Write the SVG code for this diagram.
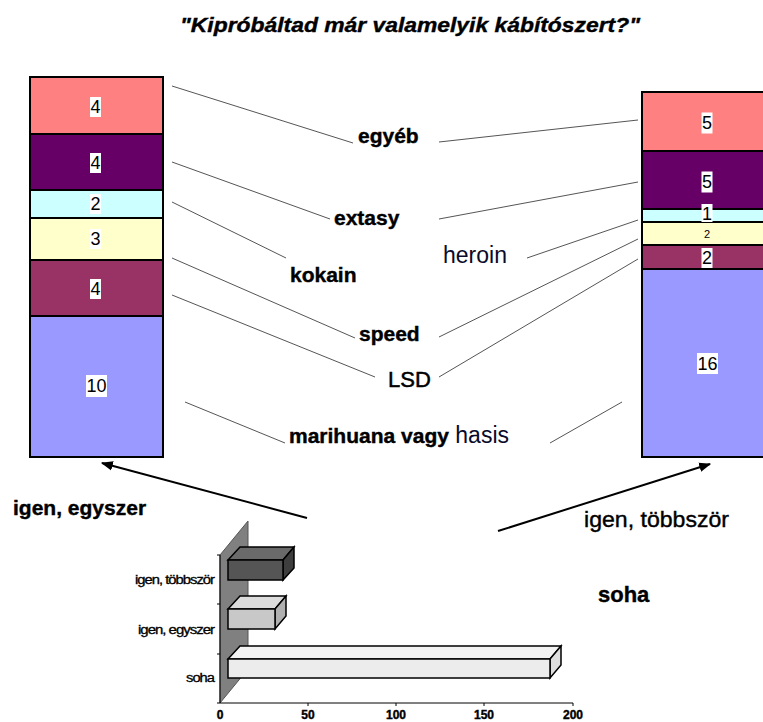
<svg xmlns="http://www.w3.org/2000/svg" width="763" height="722" viewBox="0 0 763 722">
<style>
.seg{stroke:#000;stroke-width:2}
.num{font-family:"Liberation Sans",Arial,sans-serif;font-size:18px;fill:#000;text-anchor:middle;dominant-baseline:central}
.nb{fill:#fff}
.lbl{font-family:"Liberation Sans",Arial,sans-serif;font-weight:bold;font-size:21px;fill:#000;stroke:#000;stroke-width:0.4}
.reg{font-family:"Liberation Sans",Arial,sans-serif;font-weight:normal;font-size:23px;fill:#0a0a2a}
.con{stroke:#555;stroke-width:1;fill:none}
.arr{stroke:#000;stroke-width:2;fill:none;marker-end:url(#ah)}
.cat{font-family:"Liberation Sans",Arial,sans-serif;font-size:12px;fill:#000;text-anchor:end;letter-spacing:-0.8px;stroke:#000;stroke-width:0.3}
.tick{font-family:"Liberation Sans",Arial,sans-serif;font-weight:bold;font-size:12px;fill:#000;text-anchor:middle;stroke:#000;stroke-width:0.4}
.box{stroke:#000;stroke-width:1.5}
</style>
<defs>
<marker id="ah" viewBox="0 0 10 10" refX="9" refY="5" markerWidth="6" markerHeight="6" orient="auto" markerUnits="strokeWidth">
<path d="M0,1 L10,5 L0,9 Z" fill="#000"/>
</marker>
</defs>
<rect width="763" height="722" fill="#fff"/>
<text x="410" y="32" text-anchor="middle" font-family="Liberation Sans, Arial, sans-serif" font-weight="bold" font-style="italic" font-size="21" textLength="460" lengthAdjust="spacingAndGlyphs" stroke="#000" stroke-width="0.4">"Kipróbáltad már valamelyik kábítószert?"</text>

<g id="left-bar">
<rect class="seg" x="30" y="77" width="133" height="57" fill="#FF8080"/>
<rect class="seg" x="30" y="134" width="133" height="56" fill="#660066"/>
<rect class="seg" x="30" y="190" width="133" height="28" fill="#CCFFFF"/>
<rect class="seg" x="30" y="218" width="133" height="42" fill="#FFFFCC"/>
<rect class="seg" x="30" y="260" width="133" height="56" fill="#993366"/>
<rect class="seg" x="30" y="316" width="133" height="141" fill="#9999FF"/>
<rect class="nb" x="90" y="97" width="11" height="20"/><text class="num" x="95.5" y="107">4</text>
<rect class="nb" x="90" y="153" width="11" height="20"/><text class="num" x="95.5" y="163">4</text>
<rect class="nb" x="90" y="194" width="11" height="20"/><text class="num" x="95.5" y="204">2</text>
<rect class="nb" x="90" y="229" width="11" height="20"/><text class="num" x="95.5" y="239">3</text>
<rect class="nb" x="90" y="279" width="11" height="20"/><text class="num" x="95.5" y="289">4</text>
<rect class="nb" x="86" y="375" width="21" height="22"/><text class="num" x="96.5" y="386">10</text>
</g>

<g id="right-bar">
<rect class="seg" x="642" y="92" width="130" height="59" fill="#FF8080"/>
<rect class="seg" x="642" y="151" width="130" height="58" fill="#660066"/>
<rect class="seg" x="642" y="209" width="130" height="13" fill="#CCFFFF"/>
<rect class="seg" x="642" y="222" width="130" height="23" fill="#FFFFCC"/>
<rect class="seg" x="642" y="245" width="130" height="24" fill="#993366"/>
<rect class="seg" x="642" y="269" width="130" height="188" fill="#9999FF"/>
<rect class="nb" x="701.5" y="112.5" width="11" height="21"/><text class="num" x="707" y="122.5">5</text>
<rect class="nb" x="701.5" y="171.5" width="11" height="21"/><text class="num" x="707" y="181.5">5</text>
<rect class="nb" x="701.5" y="204" width="11" height="18"/><text class="num" x="707" y="213.5">1</text>
<text class="num" x="707" y="233.5" style="font-size:11px">2</text>
<rect class="nb" x="701.5" y="248" width="11" height="20"/><text class="num" x="707" y="258">2</text>
<rect class="nb" x="697" y="353" width="21" height="21"/><text class="num" x="707.5" y="363.5">16</text>
</g>

<g id="connectors">
<line class="con" x1="172" y1="86" x2="353" y2="143"/>
<line class="con" x1="172" y1="162" x2="330" y2="219"/>
<line class="con" x1="172" y1="202" x2="286" y2="258"/>
<line class="con" x1="172" y1="258" x2="355" y2="338"/>
<line class="con" x1="172" y1="295" x2="375" y2="377"/>
<line class="con" x1="185" y1="402" x2="285" y2="443"/>
<line class="con" x1="439" y1="142" x2="638" y2="120"/>
<line class="con" x1="439" y1="219" x2="638" y2="182"/>
<line class="con" x1="527" y1="258" x2="638" y2="220"/>
<line class="con" x1="439" y1="337" x2="638" y2="239"/>
<line class="con" x1="439" y1="377" x2="638" y2="259"/>
<line class="con" x1="550" y1="443" x2="622" y2="402"/>
<line class="arr" x1="307" y1="518" x2="102" y2="463"/>
<line class="arr" x1="498" y1="531" x2="710" y2="464"/>
</g>

<g id="labels">
<text class="lbl" x="358" y="143">egyéb</text>
<text class="lbl" x="334" y="225">extasy</text>
<text class="lbl" x="290" y="282">kokain</text>
<text class="reg" x="443" y="263">heroin</text>
<text class="lbl" x="359" y="341">speed</text>
<text class="lbl" x="388" y="387" style="font-weight:normal;font-size:22px;stroke-width:0.5">LSD</text>
<text class="lbl" x="289" y="443">marihuana vagy<tspan class="reg" style="stroke:none"> hasis</tspan></text>
<text class="lbl" x="13" y="515">igen, egyszer</text>
<text class="reg" x="584" y="527" style="fill:#000;font-size:22px;stroke:#000;stroke-width:0.4" textLength="145" lengthAdjust="spacingAndGlyphs">igen, többször</text>
<text class="lbl" x="598" y="602" style="font-size:22px">soha</text>
</g>

<g id="bar-chart">
<polygon points="220,555 248,521 248,669 220,703" fill="#808080" stroke="#555" stroke-width="1"/>
<line x1="220" y1="555" x2="220" y2="703" stroke="#000" stroke-width="1"/>
<line x1="220" y1="703" x2="573" y2="703" stroke="#000" stroke-width="1"/>
<line x1="217" y1="555" x2="220" y2="555" stroke="#000"/>
<line x1="217" y1="604" x2="220" y2="604" stroke="#000"/>
<line x1="217" y1="654" x2="220" y2="654" stroke="#000"/>
<line x1="217" y1="703" x2="220" y2="703" stroke="#000"/>
<line x1="308" y1="703" x2="308" y2="706" stroke="#000"/>
<line x1="396" y1="703" x2="396" y2="706" stroke="#000"/>
<line x1="484" y1="703" x2="484" y2="706" stroke="#000"/>
<line x1="573" y1="703" x2="573" y2="706" stroke="#000"/>
<text class="tick" x="220" y="719">0</text>
<text class="tick" x="308" y="719">50</text>
<text class="tick" x="396" y="719">100</text>
<text class="tick" x="484" y="719">150</text>
<text class="tick" x="573" y="719">200</text>
<text class="cat" x="214" y="584" textLength="79" lengthAdjust="spacingAndGlyphs">igen, többször</text>
<text class="cat" x="214" y="634" textLength="76" lengthAdjust="spacingAndGlyphs">igen, egyszer</text>
<text class="cat" x="214" y="682" textLength="28" lengthAdjust="spacingAndGlyphs">soha</text>
<g id="bar-tobbszor">
<polygon class="box" points="228,560 240,547 294,547 283,560" fill="#6a6a6a"/>
<polygon class="box" points="283,560 294,547 294,568 283,580" fill="#3e3e3e"/>
<rect class="box" x="228" y="560" width="55" height="20" fill="#555"/>
</g>
<g id="bar-egyszer">
<polygon class="box" points="228,609 240,596 286,596 275,609" fill="#dcdcdc"/>
<polygon class="box" points="275,609 286,596 286,616 275,629" fill="#b0b0b0"/>
<rect class="box" x="228" y="609" width="47" height="20" fill="#c8c8c8"/>
</g>
<g id="bar-soha">
<polygon class="box" points="228,659 240,646 561,646 550,659" fill="#f2f2f2"/>
<polygon class="box" points="550,659 561,646 561,665 550,678" fill="#dedede"/>
<rect class="box" x="228" y="659" width="322" height="19" fill="#ececec"/>
</g>
</g>
</svg>
